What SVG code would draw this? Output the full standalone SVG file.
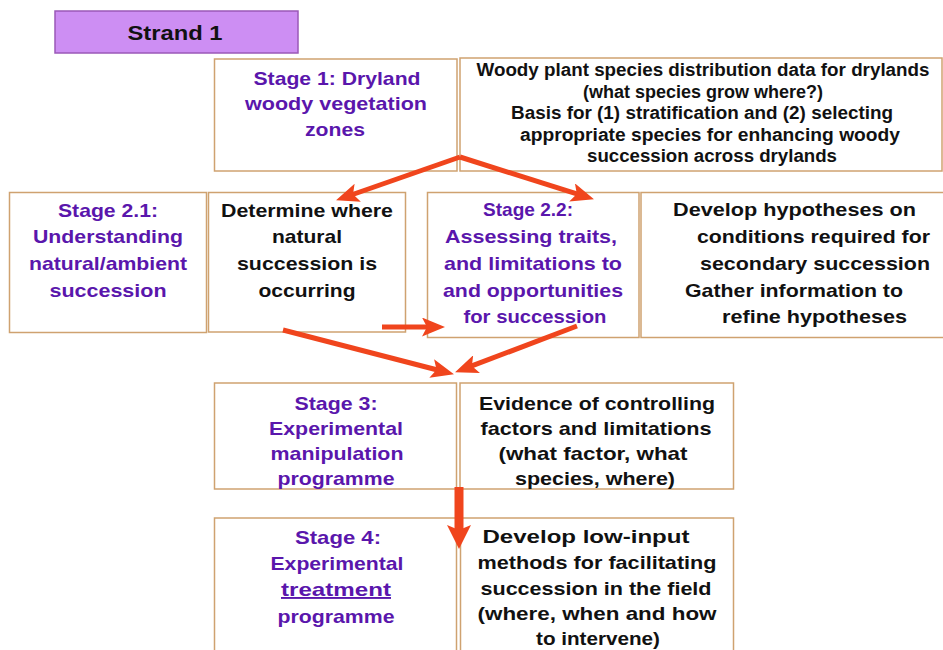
<svg xmlns="http://www.w3.org/2000/svg" width="943" height="650" viewBox="0 0 943 650">
<defs>
<style>
.box{fill:#ffffff;stroke:#cfa270;stroke-width:1.5}
.strand{fill:#cd8ef3;stroke:#9a58b8;stroke-width:1.5}
text{font-family:"Liberation Sans",Arial,sans-serif;font-weight:bold;}
.p{fill:#5a16ac;font-size:19px;text-anchor:middle}
.k{fill:#111111;font-size:19px;text-anchor:middle}
.ks{fill:#111111;font-size:18px;text-anchor:middle}
.kl{fill:#111111;font-size:19px;text-anchor:start}
.arrow{stroke:#f0451d;stroke-width:5;fill:none;stroke-linecap:butt}
.arrowBig{stroke:#f0451d;stroke-width:9;fill:none}
</style>
<marker id="head" markerUnits="userSpaceOnUse" markerWidth="23" markerHeight="19" refX="10" refY="9.5" orient="auto" viewBox="0 0 23 19">
<path d="M0,0 L23,9.5 L0,19 L5,9.5 z" fill="#f0451d"/>
</marker>
<marker id="headBig" markerUnits="userSpaceOnUse" markerWidth="24" markerHeight="24" refX="10" refY="12" orient="auto" viewBox="0 0 24 24">
<path d="M0,0 L24,12 L0,24 L5,12 z" fill="#f0451d"/>
</marker>
</defs>
<rect x="0" y="0" width="943" height="650" fill="#ffffff"/>

<g id="strand1">
<rect class="strand" x="55" y="11" width="243" height="42"/>
<text x="175" y="40" style="font-size:21px;fill:#111" text-anchor="middle" textLength="95" lengthAdjust="spacingAndGlyphs">Strand 1</text>
</g>

<g id="stage1">
<rect class="box" x="214.5" y="59" width="242.5" height="112"/>
<text class="p" x="337" y="85" textLength="167" lengthAdjust="spacingAndGlyphs">Stage 1: Dryland</text>
<text class="p" x="336" y="110" textLength="182" lengthAdjust="spacingAndGlyphs">woody vegetation</text>
<text class="p" x="335" y="136" textLength="60" lengthAdjust="spacingAndGlyphs">zones</text>
</g>

<g id="stage1-info">
<rect class="box" x="460" y="58" width="482" height="113"/>
<text class="ks" x="703" y="76" textLength="453" lengthAdjust="spacingAndGlyphs">Woody plant species distribution data for drylands</text>
<text class="ks" x="703" y="98" textLength="240" lengthAdjust="spacingAndGlyphs">(what species grow where?)</text>
<text class="ks" x="702" y="119" textLength="382" lengthAdjust="spacingAndGlyphs">Basis for (1) stratification and (2) selecting</text>
<text class="ks" x="710" y="141" textLength="380" lengthAdjust="spacingAndGlyphs">appropriate species for enhancing woody</text>
<text class="ks" x="712" y="162" textLength="250" lengthAdjust="spacingAndGlyphs">succession across drylands</text>
</g>

<g id="stage2-1">
<rect class="box" x="9.5" y="192.5" width="197" height="140"/>
<text class="p" x="108" y="217" textLength="100" lengthAdjust="spacingAndGlyphs">Stage 2.1:</text>
<text class="p" x="108" y="243" textLength="150" lengthAdjust="spacingAndGlyphs">Understanding</text>
<text class="p" x="108" y="270" textLength="158" lengthAdjust="spacingAndGlyphs">natural/ambient</text>
<text class="p" x="108" y="297" textLength="117" lengthAdjust="spacingAndGlyphs">succession</text>
</g>

<g id="stage2-1-info">
<rect class="box" x="208.5" y="192.5" width="197" height="139.5"/>
<text class="k" x="307" y="217" textLength="172" lengthAdjust="spacingAndGlyphs">Determine where</text>
<text class="k" x="307" y="243" textLength="70" lengthAdjust="spacingAndGlyphs">natural</text>
<text class="k" x="307" y="270" textLength="140" lengthAdjust="spacingAndGlyphs">succession is</text>
<text class="k" x="307" y="297" textLength="97" lengthAdjust="spacingAndGlyphs">occurring</text>
</g>

<g id="stage2-2">
<rect class="box" x="427.5" y="192.5" width="211.5" height="145"/>
<text class="p" x="528" y="216" textLength="90" lengthAdjust="spacingAndGlyphs">Stage 2.2:</text>
<text class="p" x="531" y="243" textLength="172" lengthAdjust="spacingAndGlyphs">Assessing traits,</text>
<text class="p" x="533" y="270" textLength="178" lengthAdjust="spacingAndGlyphs">and limitations to</text>
<text class="p" x="533" y="297" textLength="180" lengthAdjust="spacingAndGlyphs">and opportunities</text>
<text class="p" x="535" y="323" textLength="143" lengthAdjust="spacingAndGlyphs">for succession</text>
</g>

<g id="stage2-2-info">
<rect class="box" x="641" y="192.5" width="310" height="145"/>
<text class="kl" x="673" y="216" textLength="243" lengthAdjust="spacingAndGlyphs">Develop hypotheses on</text>
<text class="kl" x="697" y="243" textLength="233" lengthAdjust="spacingAndGlyphs">conditions required for</text>
<text class="kl" x="700" y="270" textLength="230" lengthAdjust="spacingAndGlyphs">secondary succession</text>
<text class="kl" x="685" y="297" textLength="218" lengthAdjust="spacingAndGlyphs">Gather information to</text>
<text class="kl" x="722" y="323" textLength="185" lengthAdjust="spacingAndGlyphs">refine hypotheses</text>
</g>

<g id="stage3">
<rect class="box" x="214.5" y="383" width="242" height="106"/>
<text class="p" x="336" y="410" textLength="83" lengthAdjust="spacingAndGlyphs">Stage 3:</text>
<text class="p" x="336" y="435" textLength="134" lengthAdjust="spacingAndGlyphs">Experimental</text>
<text class="p" x="337" y="460" textLength="133" lengthAdjust="spacingAndGlyphs">manipulation</text>
<text class="p" x="336" y="485" textLength="117" lengthAdjust="spacingAndGlyphs">programme</text>
</g>

<g id="stage3-info">
<rect class="box" x="460" y="383" width="273.5" height="106"/>
<text class="k" x="597" y="410" textLength="236" lengthAdjust="spacingAndGlyphs">Evidence of controlling</text>
<text class="k" x="596" y="435" textLength="231" lengthAdjust="spacingAndGlyphs">factors and limitations</text>
<text class="k" x="593" y="460" textLength="189" lengthAdjust="spacingAndGlyphs">(what factor, what</text>
<text class="k" x="595" y="485" textLength="160" lengthAdjust="spacingAndGlyphs">species, where)</text>
</g>

<g id="stage4">
<rect class="box" x="214.5" y="518" width="242" height="150"/>
<text class="p" x="338" y="544" textLength="86" lengthAdjust="spacingAndGlyphs">Stage 4:</text>
<text class="p" x="337" y="570" textLength="133" lengthAdjust="spacingAndGlyphs">Experimental</text>
<text class="p" x="336" y="596" textLength="110" lengthAdjust="spacingAndGlyphs" text-decoration="underline">treatment</text>
<text class="p" x="336" y="623" textLength="117" lengthAdjust="spacingAndGlyphs">programme</text>
</g>

<g id="stage4-info">
<rect class="box" x="460.5" y="518" width="273" height="150"/>
<text class="k" x="586" y="543" textLength="207" lengthAdjust="spacingAndGlyphs">Develop low-input</text>
<text class="k" x="597" y="569" textLength="239" lengthAdjust="spacingAndGlyphs">methods for facilitating</text>
<text class="k" x="596" y="595" textLength="231" lengthAdjust="spacingAndGlyphs">succession in the field</text>
<text class="k" x="597" y="620" textLength="239" lengthAdjust="spacingAndGlyphs">(where, when and how</text>
<text class="k" x="598" y="645" textLength="124" lengthAdjust="spacingAndGlyphs">to intervene)</text>
</g>

<g id="connectors">
<path class="arrow" d="M460,157 L348.3,196" marker-end="url(#head)"/>
<path class="arrow" d="M460,157 L581.6,195.4" marker-end="url(#head)"/>
<path class="arrow" d="M382,327 L432,327" marker-end="url(#head)"/>
<path class="arrow" d="M283,330 L441.4,371" marker-end="url(#head)"/>
<path class="arrow" d="M577,326 L467.2,367.7" marker-end="url(#head)"/>
<path class="arrowBig" d="M459,487 L459,535" marker-end="url(#headBig)"/>
</g>
</svg>
